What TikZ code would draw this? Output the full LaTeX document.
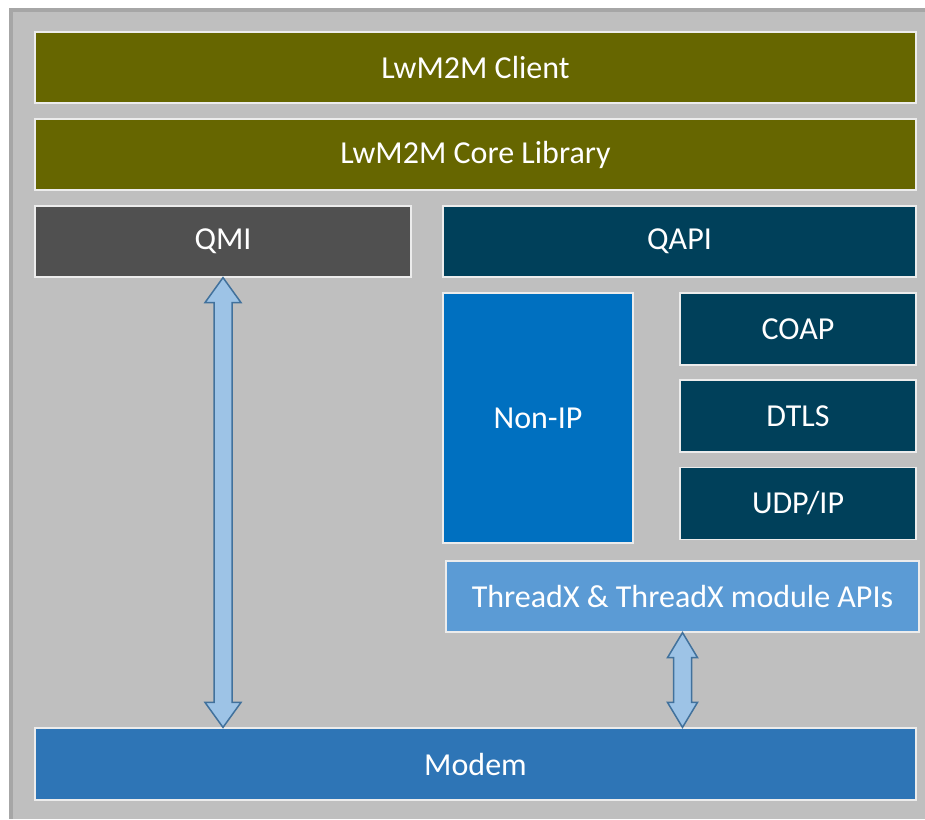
\documentclass[tikz,border=0pt]{standalone}
\usepackage{fontspec}
\setmainfont{Carlito}
\usetikzlibrary{calc}

\definecolor{panelgray}{HTML}{BFBFBF}
\definecolor{framegray}{HTML}{A6A6A6}
\definecolor{olivebar}{HTML}{666600}
\definecolor{qmigray}{HTML}{505050}
\definecolor{qapiteal}{HTML}{00405A}
\definecolor{nonipblue}{HTML}{0070C0}
\definecolor{threadxblue}{HTML}{5B9BD5}
\definecolor{modemblue}{HTML}{2E75B6}
\definecolor{arrowfill}{HTML}{9DC3E6}
\definecolor{arrowline}{HTML}{41719C}

\tikzset{
  layer/.style={draw=white!85!gray, line width=1.2pt, text=white,
    minimum height=71, inner sep=0pt,
    font=\fontsize{32}{38}\selectfont},
  fatarrow/.style={draw=arrowline, fill=arrowfill, line width=1.5pt, line join=miter}
}

% hollow double arrow between two anchors (top, bottom, head half width)
\newcommand{\fatarrow}[3]{%
  \draw[fatarrow] let \p1=(#1), \p2=(#2) in
    (\x1,\y1) -- (\x1+#3,\y1-25pt) -- (\x1+9pt,\y1-25pt) -- (\x1+9pt,\y2+25pt)
    -- (\x1+#3,\y2+25pt) -- (\x1,\y2) -- (\x1-#3,\y2+25pt) -- (\x1-9pt,\y2+25pt)
    -- (\x1-9pt,\y1-25pt) -- (\x1-#3,\y1-25pt) -- cycle;}

\begin{document}
\begin{tikzpicture}[x=1pt, y=-1pt]
    \useasboundingbox (0,0) rectangle (925,819);
    % panel
    \fill[panelgray] (9,8) rectangle (925,819);
    \fill[framegray] (9,8) rectangle (925,12);
    \fill[framegray] (9,8) rectangle (13,819);

    % layers
    \node[layer, fill=olivebar, minimum width=881] (client) at (475.5,67.5) {LwM2M Client};
    \node[layer, fill=olivebar, minimum width=881] (core) at (475.5,154.5) {LwM2M Core Library};

    \node[layer, fill=qmigray, minimum width=376] (qmi) at (223,241.5) {QMI};
    \node[layer, fill=qapiteal, minimum width=473] (qapi) at (679.5,241.5) {QAPI};

    \node[layer, fill=nonipblue, minimum width=190, minimum height=250] (nonip) at (538,418) {Non-IP};
    \node[layer, fill=qapiteal, minimum width=236, minimum height=72] (coap) at (798,329) {COAP};
    \node[layer, fill=qapiteal, minimum width=236, minimum height=72] (dtls) at (798,416) {DTLS};
    \node[layer, fill=qapiteal, minimum width=236, minimum height=72] (udpip) at (798,503.5) {UDP/IP};

    \node[layer, fill=threadxblue, minimum width=473] (threadx) at (682.5,596.5) {ThreadX \& ThreadX module APIs};

    \node[layer, fill=modemblue, minimum width=881, minimum height=72] (modem) at (475.5,764) {Modem};

    % links to modem
    \fatarrow{qmi.south}{qmi.south |- modem.north}{18pt}
    \fatarrow{threadx.south}{threadx.south |- modem.north}{15pt}
\end{tikzpicture}
\end{document}
